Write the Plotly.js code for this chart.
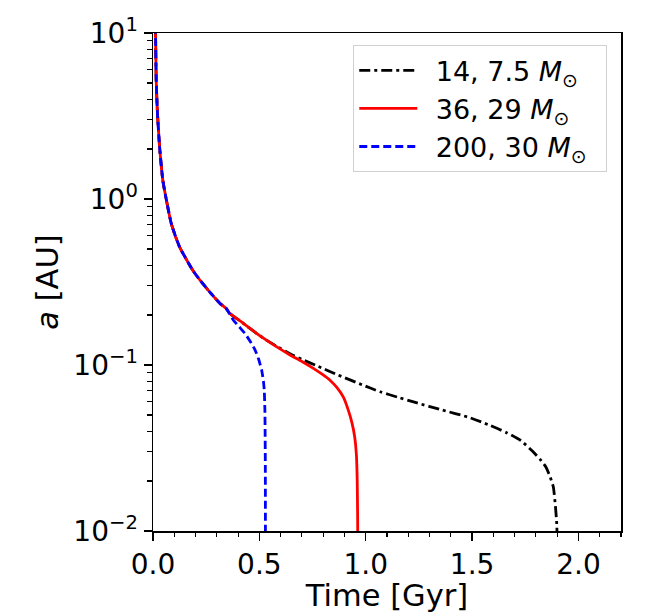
<!DOCTYPE html>
<html>
<head>
<meta charset="utf-8">
<script src="https://cdn.plot.ly/plotly-3.0.1.min.js"></script>
<style>html,body{margin:0;padding:0;background:#fff;}</style>
</head>
<body>
<div id="chart" style="width:654px;height:613px;"></div>
<script>
// Shared early evolution (all three systems overlap)
const tCommon = [0.0115, 0.012, 0.015, 0.021, 0.031, 0.046, 0.062, 0.086, 0.125, 0.187, 0.221, 0.266, 0.315, 0.344];
const aCommon = [11, 10, 5.2, 3.27, 2.06, 1.30, 1.0, 0.711, 0.514, 0.372, 0.324, 0.276, 0.235, 0.219];

// 14, 7.5 Msun (black dash-dot)
const tBlackTail = [0.362, 0.42, 0.47, 0.519, 0.58, 0.644, 0.70, 0.77, 0.87, 0.983, 1.067, 1.15, 1.233, 1.36, 1.482, 1.58, 1.664, 1.73, 1.781, 1.82, 1.847, 1.868, 1.882, 1.892, 1.898, 1.9];
const aBlackTail = [0.204, 0.18, 0.161, 0.145, 0.13, 0.117, 0.108, 0.099, 0.087, 0.076, 0.069, 0.064, 0.0595, 0.0535, 0.0485, 0.0435, 0.039, 0.035, 0.0305, 0.027, 0.0243, 0.021, 0.0184, 0.014, 0.011, 0.009];

// 36, 29 Msun (red solid)
const tRedTail = [0.362, 0.42, 0.47, 0.519, 0.58, 0.644, 0.70, 0.754, 0.795, 0.832, 0.865, 0.895, 0.918, 0.935, 0.948, 0.956, 0.96, 0.962, 0.9625];
const aRedTail = [0.204, 0.18, 0.161, 0.145, 0.129, 0.115, 0.105, 0.0955, 0.088, 0.081, 0.073, 0.064, 0.0535, 0.045, 0.037, 0.029, 0.02, 0.012, 0.009];

// 200, 30 Msun (blue dashed)
const tBlueTail = [0.378, 0.405, 0.432, 0.458, 0.48, 0.497, 0.511, 0.519, 0.523, 0.526, 0.527, 0.528, 0.5285];
const aBlueTail = [0.186, 0.170, 0.155, 0.138, 0.123, 0.108, 0.093, 0.08, 0.0706, 0.0536, 0.04, 0.025, 0.009];

const names = ["\u200214, 7.5 <i>M</i><sub>⊙</sub>\u2002", "\u200236, 29 <i>M</i><sub>⊙</sub>\u2002", "\u2002200, 30 <i>M</i><sub>⊙</sub>\u2002"];
const yTickVals = [0.01, 0.1, 1, 10];
const yTickText = ["10<sup>−2</sup>", "10<sup>−1</sup>", "10<sup>0</sup>", "10<sup>1</sup>"];
const xTickVals = [0, 0.5, 1.0, 1.5, 2.0];
const xTickText = ["0.0", "0.5", "1.0", "1.5", "2.0"];

const traces = [
  {x: tCommon.concat(tBlackTail), y: aCommon.concat(aBlackTail), name: names[0], mode: 'lines',
   line: {color: '#000000', width: 2.8, dash: '11px,4px,3px,4px', shape: 'spline', smoothing: 0.5}},
  {x: tCommon.concat(tRedTail), y: aCommon.concat(aRedTail), name: names[1], mode: 'lines',
   line: {color: '#ff0000', width: 2.8, shape: 'spline', smoothing: 0.5}},
  {x: tCommon.concat(tBlueTail), y: aCommon.concat(aBlueTail), name: names[2], mode: 'lines',
   line: {color: '#0000ff', width: 2.8, dash: '8px,4px', shape: 'spline', smoothing: 0.5}}
];

const F = 'DejaVu Sans, sans-serif';

const layout = {
  width: 654, height: 613,
  margin: {l: 153, r: 33, t: 33, b: 82},
  paper_bgcolor: '#fff', plot_bgcolor: '#fff',
  font: {family: F, color: '#000'},
  showlegend: true,
  legend: {
    x: 0.970, y: 0.976, xanchor: 'right', yanchor: 'top',
    bgcolor: 'rgba(255,255,255,0.8)', bordercolor: '#d0d0d0', borderwidth: 1.3,
    font: {family: F, size: 27, color: '#000'},
    itemwidth: 58, tracegroupgap: 0
  },
  xaxis: {
    range: [0, 2.2],
    tickvals: xTickVals, ticktext: xTickText,
    ticks: 'outside', ticklen: 8, tickwidth: 1.5, tickcolor: '#000',
    showline: true, linecolor: '#000', linewidth: 1.5, mirror: true,
    showgrid: false, zeroline: false,
    tickfont: {family: F, size: 28, color: '#000'},
    minor: {dtick: 0.1, ticks: 'outside', ticklen: 4.5, tickwidth: 1.1, tickcolor: '#000', showgrid: false},
    title: {text: 'Time [Gyr]', font: {family: F, size: 30.5, color: '#000'}, standoff: 1}
  },
  yaxis: {
    type: 'log', range: [-2, 1],
    tickvals: yTickVals, ticktext: yTickText,
    ticks: 'outside', ticklen: 8, tickwidth: 1.5, tickcolor: '#000',
    showline: true, linecolor: '#000', linewidth: 1.5, mirror: true,
    showgrid: false, zeroline: false,
    tickfont: {family: F, size: 28, color: '#000'},
    minor: {dtick: 'D1', ticks: 'outside', ticklen: 4.5, tickwidth: 1.1, tickcolor: '#000', showgrid: false},
    title: {text: '<i>a</i> [AU]', font: {family: F, size: 30.5, color: '#000'}, standoff: 5}
  }
};

Plotly.newPlot('chart', traces, layout, {displayModeBar: false, staticPlot: true});
</script>
</body>
</html>
